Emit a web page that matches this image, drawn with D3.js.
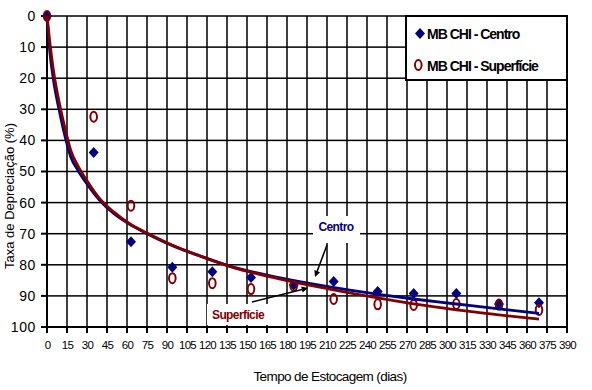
<!DOCTYPE html>
<html>
<head>
<meta charset="utf-8">
<script src="https://cdn.jsdelivr.net/npm/d3@7"></script>
</head>
<body style="margin:0">
<div id="chart"></div>
<script>
// sampling days (x values)
const dias = [0, 35, 63, 94, 124, 153, 185, 215, 248, 275, 307, 339, 369];
const centro = [0, 43.9, 72.6, 80.8, 82.2, 84.1, 86.5, 85.4, 88.6, 89.2, 89.2, 92.6, 92.2];
const superficie = [0, 32.4, 61.0, 84.3, 85.9, 87.8, 86.8, 91.0, 92.7, 92.9, 92.6, 92.8, 94.5];

// trend curves
const trendDias = [0, 2, 5, 9, 14, 18, 23, 30, 40, 50, 62, 75, 95, 115, 137, 175, 212, 250, 275, 307, 339, 369];
const trendCentro = [0, 11, 21, 30, 39.5, 45.5, 49.5, 54, 59.5, 63.5, 67, 70, 74, 77.2, 80.4, 84.2, 87.1, 89.6, 91, 92.6, 94.2, 95.6];
const trendSuperficie = [0, 8, 18, 27.5, 37, 43.5, 48, 53, 59, 63, 66.8, 69.8, 73.9, 77.2, 80.5, 84.6, 87.8, 90.8, 92.6, 94.5, 96.1, 97.5];

// tick labels
const xTicks = [0, 15, 30, 45, 60, 75, 90, 105, 120, 135, 150, 165, 180, 195, 210, 225, 240, 255, 270, 285, 300, 315, 330, 345, 360, 375, 390];
const yTicks = [0, 10, 20, 30, 40, 50, 60, 70, 80, 90, 100];

const seriesNames = ['MB CHI - Centro', 'MB CHI - Superfície'];
const xTitle = 'Tempo de Estocagem (dias)';
const yTitle = 'Taxa de Depreciação (%)';

const NAVY = '#000080';
const MAROON = '#800000';

const W = 592, H = 390;
const plot = { left: 47, right: 567, top: 16, bottom: 327 };

const svg = d3.select('#chart').append('svg')
    .attr('width', W)
    .attr('height', H)
    .attr('font-family', 'Liberation Sans, Arial, sans-serif');

svg.append('rect').attr('width', W).attr('height', H).attr('fill', '#fff');

const x = d3.scaleLinear().domain([0, 390]).range([plot.left, plot.right]);
const y = d3.scaleLinear().domain([0, 100]).range([plot.top, plot.bottom]);

// straight rules drawn as thin filled rects
const vRule = (xp, y1, y2, w) => svg.append('rect')
    .attr('x', xp - w / 2).attr('y', y1)
    .attr('width', w).attr('height', y2 - y1)
    .attr('fill', '#000');
const hRule = (yp, x1, x2, w) => svg.append('rect')
    .attr('x', x1).attr('y', yp - w / 2)
    .attr('width', x2 - x1).attr('height', w)
    .attr('fill', '#000');

// grid
for (const t of xTicks.slice(1, -1)) vRule(x(t), plot.top, plot.bottom, 1.5);
for (const t of yTicks.slice(0, -1)) hRule(y(t), plot.left, plot.right, 1.5);

// frame and tick marks
vRule(plot.left, plot.top - 1, plot.bottom + 1, 2);
vRule(plot.right, plot.top - 1, plot.bottom + 1, 2);
hRule(plot.bottom, plot.left - 1, plot.right + 1, 2);
for (const t of yTicks) hRule(y(t), plot.left - 6, plot.left, 2);
for (const t of xTicks) vRule(x(t), plot.bottom, plot.bottom + 6, 2);

// tick labels through d3 axes (text only)
const yAxis = svg.append('g')
    .attr('transform', `translate(${plot.left},0)`)
    .call(d3.axisLeft(y).tickValues(yTicks).tickSize(6).tickSizeOuter(0).tickPadding(5));
yAxis.select('.domain').remove();
yAxis.selectAll('.tick line').remove();
yAxis.selectAll('text')
    .attr('fill', '#000')
    .attr('font-size', 14)
    .attr('letter-spacing', 0.6);

const xAxis = svg.append('g')
    .attr('transform', `translate(0,${plot.bottom})`)
    .call(d3.axisBottom(x).tickValues(xTicks).tickSize(6).tickSizeOuter(0).tickPadding(8));
xAxis.select('.domain').remove();
xAxis.selectAll('.tick line').remove();
xAxis.selectAll('text')
    .attr('fill', '#000')
    .attr('font-size', 11.5)
    .attr('letter-spacing', -0.7);

// axis titles
svg.append('text')
    .attr('x', 330).attr('y', 381)
    .attr('text-anchor', 'middle')
    .attr('font-size', 13.5)
    .attr('letter-spacing', -0.6)
    .text(xTitle);

svg.append('text')
    .attr('transform', 'translate(14,196) rotate(-90)')
    .attr('text-anchor', 'middle')
    .attr('font-size', 13)
    .text(yTitle);

// markers
const diamondPath = 'M0,-5.5L5,0L0,5.5L-5,0Z';

svg.append('g').selectAll('path')
    .data(dias.map((d, i) => [d, centro[i]]))
    .join('path')
    .attr('d', diamondPath)
    .attr('transform', d => `translate(${x(d[0])},${y(d[1])})`)
    .attr('fill', NAVY);

svg.append('g').selectAll('ellipse')
    .data(dias.map((d, i) => [d, superficie[i]]))
    .join('ellipse')
    .attr('cx', d => x(d[0]))
    .attr('cy', d => y(d[1]))
    .attr('rx', 3.3).attr('ry', 5)
    .attr('fill', 'none')
    .attr('stroke', MAROON)
    .attr('stroke-width', 2);

// trend curves
const trendLine = d3.line()
    .x(d => x(d[0]))
    .y(d => y(d[1]))
    .curve(d3.curveMonotoneX);

const drawTrend = (vals, color) => {
    svg.append('path')
        .datum(trendDias.map((d, i) => [d, vals[i]]))
        .attr('d', trendLine)
        .attr('fill', 'none')
        .attr('stroke', color)
        .attr('stroke-width', 2.8);
};
drawTrend(trendCentro, NAVY);
drawTrend(trendSuperficie, MAROON);

// annotation arrows
const arrow = (x1, y1, x2, y2) => {
    const a = Math.atan2(y2 - y1, x2 - x1), L = 7, s = 0.45;
    svg.append('line')
        .attr('x1', x1).attr('y1', y1)
        .attr('x2', x2 - 4 * Math.cos(a)).attr('y2', y2 - 4 * Math.sin(a))
        .attr('stroke', '#000').attr('stroke-width', 1.5);
    const p1 = [x2 - L * Math.cos(a - s), y2 - L * Math.sin(a - s)];
    const p2 = [x2 - L * Math.cos(a + s), y2 - L * Math.sin(a + s)];
    svg.append('path')
        .attr('d', `M${x2},${y2}L${p1[0]},${p1[1]}L${p2[0]},${p2[1]}Z`)
        .attr('fill', '#000');
};

svg.append('rect')
    .attr('x', 313).attr('y', 216).attr('width', 47).attr('height', 27)
    .attr('fill', '#fff');
svg.append('text')
    .attr('x', 336).attr('y', 231)
    .attr('text-anchor', 'middle')
    .attr('font-size', 12).attr('font-weight', 'bold')
    .attr('letter-spacing', -0.6)
    .attr('fill', NAVY)
    .text('Centro');
arrow(327, 245, 315, 277);

svg.append('rect')
    .attr('x', 207).attr('y', 304).attr('width', 62).attr('height', 21)
    .attr('fill', '#fff');
svg.append('text')
    .attr('x', 238).attr('y', 319)
    .attr('text-anchor', 'middle')
    .attr('font-size', 12).attr('font-weight', 'bold')
    .attr('letter-spacing', -0.6)
    .attr('fill', MAROON)
    .text('Superfície');
arrow(252, 302, 308, 288);

// legend
svg.append('rect')
    .attr('x', 406).attr('y', 16).attr('width', 161).attr('height', 64)
    .attr('fill', '#fff')
    .attr('stroke', '#000').attr('stroke-width', 2);
svg.append('path')
    .attr('d', diamondPath)
    .attr('transform', 'translate(420,33.5)')
    .attr('fill', NAVY);
svg.append('ellipse')
    .attr('cx', 418.3).attr('cy', 65)
    .attr('rx', 3.3).attr('ry', 5)
    .attr('fill', 'none')
    .attr('stroke', MAROON).attr('stroke-width', 2);
svg.append('g').selectAll('text').data(seriesNames).join('text')
    .attr('x', 427)
    .attr('y', (d, i) => 39 + i * 32)
    .attr('font-size', 14).attr('font-weight', 'bold')
    .attr('letter-spacing', -1)
    .text(d => d);
</script>
</body>
</html>
